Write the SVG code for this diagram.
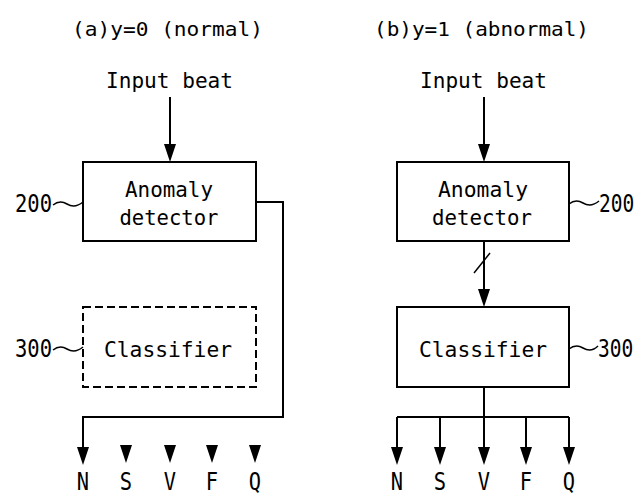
<svg xmlns="http://www.w3.org/2000/svg" width="637" height="496" viewBox="0 0 637 496">
  <style>
    text { font-family: "DejaVu Sans Mono", "Liberation Mono", monospace; fill: #000; }
    .title { font-size: 20px; }
    .lbl { font-size: 22px; }
    .ref { font-size: 25px; }
    .cls { font-size: 24px; text-anchor: middle; }
    .box { fill: #fff; stroke: #000; stroke-width: 2; }
    .dash { fill: #fff; stroke: #000; stroke-width: 2; stroke-dasharray: 8 4; }
    .wire { fill: none; stroke: #000; stroke-width: 2; }
    .lead { fill: none; stroke: #000; stroke-width: 1.5; }
    .mid { text-anchor: middle; }
  </style>
  <defs>
    <path id="ah" d="M-6,-18 L6,-18 L0,0 Z" fill="#000"/>
  </defs>
  <rect width="637" height="496" fill="#fff"/>

  <!-- panel headings -->
  <text class="title" x="72" y="36" textLength="191" lengthAdjust="spacingAndGlyphs">(a)y=0 (normal)</text>
  <text class="title" x="374" y="36" textLength="215" lengthAdjust="spacingAndGlyphs">(b)y=1 (abnormal)</text>

  <!-- inputs -->
  <text class="lbl" x="106" y="88" textLength="127" lengthAdjust="spacingAndGlyphs">Input beat</text>
  <text class="lbl" x="420" y="88" textLength="127" lengthAdjust="spacingAndGlyphs">Input beat</text>

  <!-- connectors -->
  <g id="connectors">
    <!-- left panel -->
    <line class="wire" x1="170" y1="97" x2="170" y2="150"/>
    <use href="#ah" x="170" y="162"/>
    <path class="wire" d="M256,202 H283 V417 H83 V452"/>
    <use href="#ah" x="83" y="465"/>
    <use href="#ah" x="126" y="463"/>
    <use href="#ah" x="170" y="463"/>
    <use href="#ah" x="212" y="463"/>
    <use href="#ah" x="255" y="463"/>
    <!-- right panel -->
    <line class="wire" x1="484" y1="97" x2="484" y2="150"/>
    <use href="#ah" x="484" y="162"/>
    <line class="wire" x1="484" y1="241" x2="484" y2="295"/>
    <line class="lead" x1="474" y1="273" x2="490" y2="253"/>
    <use href="#ah" x="484" y="307"/>
    <path class="wire" d="M484,387 V417 M397,417 H569 M397,417 V452 M440,417 V452 M484,417 V452 M526,417 V452 M569,417 V452"/>
    <use href="#ah" x="397" y="465"/>
    <use href="#ah" x="440" y="465"/>
    <use href="#ah" x="484" y="465"/>
    <use href="#ah" x="526" y="465"/>
    <use href="#ah" x="569" y="465"/>
  </g>

  <!-- (a) anomaly detector -->
  <g id="detector-a">
    <rect class="box" x="83" y="162" width="173" height="79"/>
    <text class="lbl mid" x="169" y="197" textLength="88" lengthAdjust="spacingAndGlyphs">Anomaly</text>
    <text class="lbl mid" x="169" y="225" textLength="99" lengthAdjust="spacingAndGlyphs">detector</text>
    <path class="lead" d="M53,205 C58,201 62,201 67,204 S77,207 83,202"/>
    <text class="ref" transform="translate(15,212) scale(0.82,1)">200</text>
  </g>

  <!-- (a) classifier, inactive -->
  <g id="classifier-a">
    <rect class="dash" x="83" y="307" width="173" height="80"/>
    <text class="lbl mid" x="168" y="357" textLength="128" lengthAdjust="spacingAndGlyphs">Classifier</text>
    <path class="lead" d="M53,350 C58,346 62,346 67,349 S77,352 83,347"/>
    <text class="ref" transform="translate(15,357) scale(0.82,1)">300</text>
  </g>

  <!-- (b) anomaly detector -->
  <g id="detector-b">
    <rect class="box" x="397" y="162" width="172" height="79"/>
    <text class="lbl mid" x="483" y="197" textLength="90" lengthAdjust="spacingAndGlyphs">Anomaly</text>
    <text class="lbl mid" x="482" y="225" textLength="100" lengthAdjust="spacingAndGlyphs">detector</text>
    <path class="lead" d="M569,204 C574,200 578,200 583,203 S593,206 599,201"/>
    <text class="ref" transform="translate(599,212) scale(0.78,1)">200</text>
  </g>

  <!-- (b) classifier -->
  <g id="classifier-b">
    <rect class="box" x="397" y="307" width="172" height="80"/>
    <text class="lbl mid" x="483" y="357" textLength="128" lengthAdjust="spacingAndGlyphs">Classifier</text>
    <path class="lead" d="M569,349 C574,345 578,345 583,348 S593,351 598,346"/>
    <text class="ref" transform="translate(598,357) scale(0.78,1)">300</text>
  </g>

  <!-- output classes -->
  <g id="classes-a">
    <text class="cls" transform="translate(83,490) scale(0.85,1)">N</text>
    <text class="cls" transform="translate(126,490) scale(0.85,1)">S</text>
    <text class="cls" transform="translate(170,490) scale(0.85,1)">V</text>
    <text class="cls" transform="translate(212,490) scale(0.85,1)">F</text>
    <text class="cls" transform="translate(255,490) scale(0.85,1)">Q</text>
  </g>
  <g id="classes-b">
    <text class="cls" transform="translate(397,490) scale(0.85,1)">N</text>
    <text class="cls" transform="translate(440,490) scale(0.85,1)">S</text>
    <text class="cls" transform="translate(484,490) scale(0.85,1)">V</text>
    <text class="cls" transform="translate(526,490) scale(0.85,1)">F</text>
    <text class="cls" transform="translate(569,490) scale(0.85,1)">Q</text>
  </g>
</svg>
